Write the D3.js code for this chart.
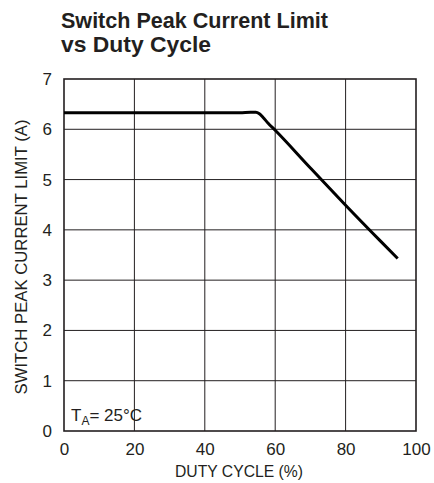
<!DOCTYPE html>
<html><head><meta charset="utf-8">
<script src="https://cdn.jsdelivr.net/npm/d3@7"></script>
<style>body{margin:0;background:#fff}svg{display:block}text{font-family:"Liberation Sans Narrow","Arial Narrow","Liberation Sans",sans-serif;fill:#231f20}</style>
</head><body>
<svg id="c" width="434" height="483"></svg>
<script>
const titleLines = ["Switch Peak Current Limit", "vs Duty Cycle"];
const xLabel = "DUTY CYCLE (%)";
const yLabel = "SWITCH PEAK CURRENT LIMIT (A)";
const xTicks = [0, 20, 40, 60, 80, 100];
const yTicks = [0, 1, 2, 3, 4, 5, 6, 7];
const duty = [0, 20, 40, 50, 53, 54.5, 55.5, 56.5, 58, 60, 70, 80, 90, 94.8];
const current = [6.33, 6.33, 6.33, 6.33, 6.34, 6.34, 6.31, 6.24, 6.12, 5.98, 5.23, 4.49, 3.77, 3.43];

const svg = d3.select("#c");
const m = {l: 64, r: 416, t: 79, b: 431};
const x = d3.scaleLinear().domain([0, 100]).range([m.l, m.r]);
const y = d3.scaleLinear().domain([0, 7]).range([m.b, m.t]);

// title (one text element, two lines)
const tw = [267, 150];
const title = svg.append("text").attr("font-size", 22).attr("font-weight", "bold");
titleLines.forEach((t, i) => {
  title.append("tspan").attr("x", 61).attr("y", 28 + i * 24)
    .attr("textLength", tw[i]).attr("lengthAdjust", "spacingAndGlyphs")
    .text(t);
});

// grid
svg.append("g").selectAll("line").data(xTicks.slice(1, -1)).join("line")
  .attr("x1", d => x(d)).attr("x2", d => x(d)).attr("y1", m.t).attr("y2", m.b)
  .attr("stroke", "#231f20").attr("stroke-width", 1);
svg.append("g").selectAll("line").data(yTicks.slice(1, -1)).join("line")
  .attr("y1", d => y(d)).attr("y2", d => y(d)).attr("x1", m.l).attr("x2", m.r)
  .attr("stroke", "#231f20").attr("stroke-width", 1);

// frame
svg.append("rect").attr("x", m.l).attr("y", m.t).attr("width", m.r - m.l).attr("height", m.b - m.t)
  .attr("fill", "none").attr("stroke", "#231f20").attr("stroke-width", 1.6);

// axes labels
const xa = d3.axisBottom(x).tickValues(xTicks).tickFormat(d3.format("d")).tickSize(0).tickPadding(12);
const gx = svg.append("g").attr("transform", `translate(0,${m.b})`).call(xa);
gx.select(".domain").remove();

const ya = d3.axisLeft(y).tickValues(yTicks).tickFormat(d3.format("d")).tickSize(0).tickPadding(12);
const gy = svg.append("g").attr("transform", `translate(${m.l},0)`).call(ya);
gy.select(".domain").remove();
svg.selectAll("g[font-family]").attr("font-family", null).attr("font-size", null);
svg.selectAll(".tick text").attr("font-size", 17).attr("fill", "#231f20");

svg.append("text").attr("x", (175 + 303) / 2).attr("y", 477).attr("text-anchor", "middle")
  .attr("font-size", 17).attr("textLength", 128).attr("lengthAdjust", "spacingAndGlyphs").text(xLabel);
svg.append("text").attr("transform", "translate(27,257) rotate(-90)").attr("text-anchor", "middle")
  .attr("font-size", 17).attr("textLength", 275).attr("lengthAdjust", "spacingAndGlyphs").text(yLabel);

// annotation
const ann = svg.append("text").attr("x", 71).attr("y", 421).attr("font-size", 17);
ann.append("tspan").text("T");
ann.append("tspan").attr("font-size", 12).attr("dy", 4).text("A");
ann.append("tspan").attr("dy", -4).text("= 25°C");

// curve
const pts = duty.map((d, i) => [d, current[i]]);
svg.append("path").datum(pts)
  .attr("d", d3.line().x(d => x(d[0])).y(d => y(d[1])).curve(d3.curveMonotoneX))
  .attr("fill", "none").attr("stroke", "#000").attr("stroke-width", 3).attr("stroke-linejoin", "round");
</script>
</body></html>
